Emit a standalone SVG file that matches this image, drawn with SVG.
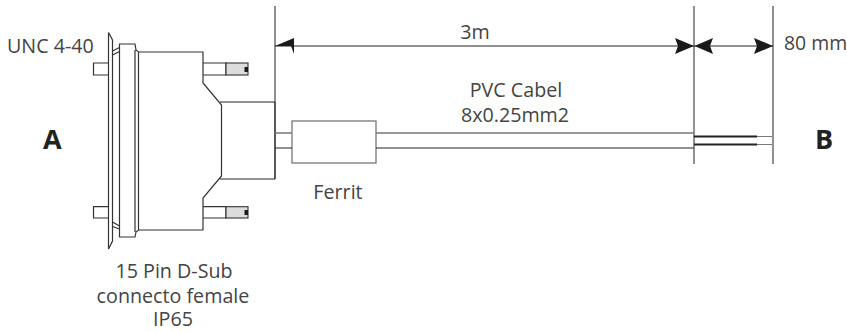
<svg xmlns="http://www.w3.org/2000/svg" width="847" height="332" viewBox="0 0 847 332">
<style>
.l{fill:none;stroke:#333;stroke-width:1.2}
.g{fill:none;stroke:#777;stroke-width:1.3}
.k{fill:none;stroke:#222;stroke-width:1}
.t{font-family:"Open Sans",sans-serif;font-size:19.700px;fill:#444}
.b{font-family:"Open Sans",sans-serif;font-size:27px;font-weight:700;fill:#222}
.m{text-anchor:middle}
.a{fill:#1a1a1a}
.s{fill:#dcdcdc;stroke:#333;stroke-width:1.1}
</style>
<rect width="847" height="332" fill="#fff"/>
<g id="connector-A">
<path class="l" d="M108.500 32.500V249M108.500 32.500L112.500 40V241L108.500 249"/>
<path class="l" d="M112.500 51L119.500 47.500M112.500 55L119.500 51.500M112.500 222L119.500 226M112.500 226.500L119.500 229"/>
<path class="l" d="M119.500 44H135L136 50L138.500 52H203V83L221.500 105V176L203 198V230H138.500L136 232L135 237H119.500ZM135 50V232M138.500 52V230"/>
<path class="k" d="M220 102H275V179H220"/>
<path class="l" d="M108 63H93.500V75H108M108 206.700H93.500V218H108"/>
<path class="l" d="M203 63H226V75H203M203 206.700H226V218H203"/>
<rect class="s" x="226" y="63" width="22" height="12"/>
<rect class="s" x="226" y="206.700" width="22" height="11.300"/>
<rect class="a" x="244.500" y="67" width="3.500" height="5"/>
<rect class="a" x="244.500" y="210" width="3.500" height="5"/>
</g>
<g id="ferrite">
<rect class="g" x="292" y="121" width="84" height="42"/>
</g>
<g id="connectors">
<path class="k" d="M275 6V179M694 6V164M773 6V164"/>
<path class="k" d="M275 46H694M694 46H773"/>
<path class="a" d="M275 46L294 38V54L291 46ZM694 46L675 38L678 46L675 54ZM694.500 46L713 38L710 46L713 54ZM773 46L754 38L757 46L754 54Z"/>
<path class="g" d="M275 133H292M376 133H694"/>
<path class="k" d="M275 148H292M376 148H694"/>
<path d="M694 136.500H757M694 144.500H757" fill="none" stroke="#222" stroke-width="2.200"/>
<path d="M757 136.500H772M757 144.500H772" fill="none" stroke="#555" stroke-width=".8"/>
</g>
<g id="labels">
<text class="t" x="7" y="52.500">UNC 4-40</text>
<text class="b" x="43" y="149">A</text>
<text class="b" x="815" y="149">B</text>
<text class="t m" x="174" y="278">15 Pin D-Sub</text>
<text class="t m" x="173" y="303">connecto female</text>
<text class="t m" x="173" y="326">IP65</text>
<text class="t m" x="475" y="39">3m</text>
<text class="t" x="784" y="50" style="font-size:19.400px">80 mm</text>
<text class="t m" x="516" y="97">PVC Cabel</text>
<text class="t m" x="515" y="122">8x0.25mm2</text>
<text class="t m" x="338" y="199">Ferrit</text>
</g>
</svg>
